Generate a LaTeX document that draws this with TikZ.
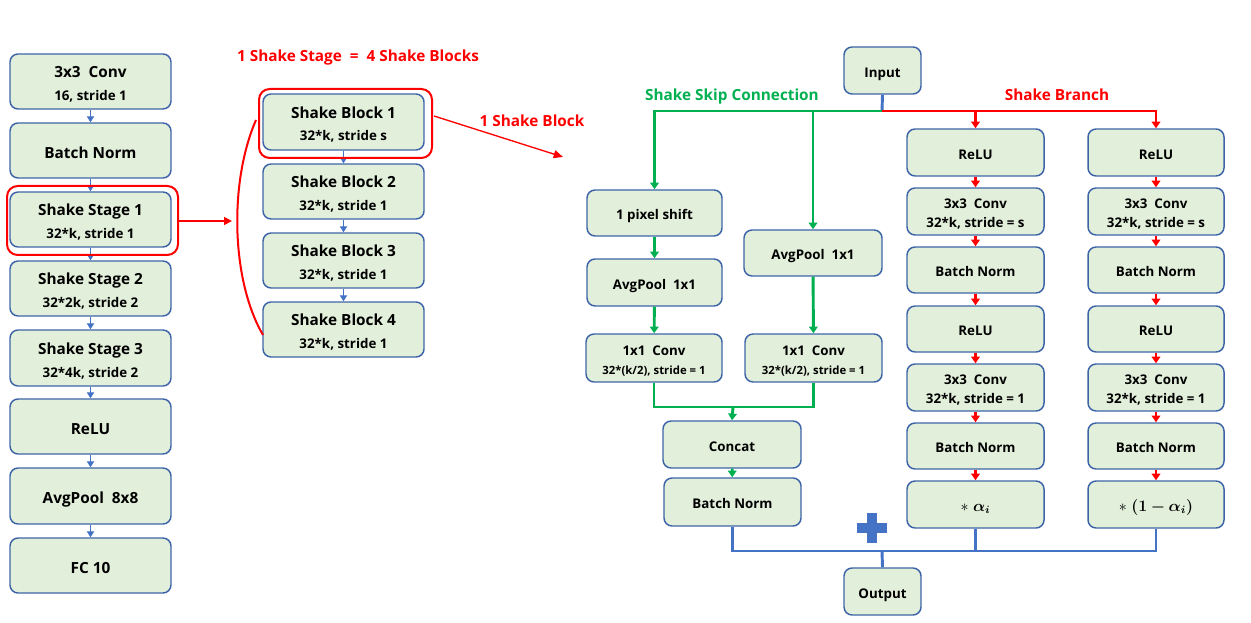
\documentclass[tikz,border=0pt]{standalone}
\usepackage{amsmath,bm}
\usepackage{fontspec}
\setmainfont{Open Sans}
\usetikzlibrary{arrows.meta}
\definecolor{boxfill}{RGB}{226,239,218}
\definecolor{boxdraw}{RGB}{62,100,168}
\definecolor{lblue}{RGB}{68,114,196}
\definecolor{lgreen}{RGB}{0,176,80}
\definecolor{lred}{RGB}{255,0,0}
\newcommand{\subL}{\fontsize{10}{12}\selectfont}
\newcommand{\subR}{\fontsize{8.5}{10}\selectfont}
\newcommand{\mathR}{\fontsize{11.5}{13}\selectfont}
\newcommand{\bx}[7][box]{\node[#1, minimum width={(#5-#3)*0.75pt}, minimum height={(#6-#4)*0.75pt}] (#2) at ({(#3+#5)/2},{(#4+#6)/2}) {\rule{0pt}{1.0em}#7};}
\begin{document}
\begin{tikzpicture}[x=0.75pt,y=-0.75pt,
  box/.style={draw=boxdraw, fill=boxfill, line width=1.1pt, rounded corners=6pt, align=center, inner sep=0pt, text depth=0pt, font=\bfseries\fontsize{11.5}{14}\selectfont},
  rbox/.style={box, font=\bfseries\fontsize{10}{12}\selectfont},
  frame/.style={draw=lred, line width=1.5pt, rounded corners=8pt, inner sep=0pt},
  sarrow/.style={draw=lblue, line width=0.8pt, -{Triangle[length=4.5pt,width=5.5pt]}},
  rarrow/.style={draw=lred, line width=1.8pt, -{Triangle[length=5pt,width=6.5pt]}},
  rthin/.style={draw=lred, line width=1pt, -{Triangle[length=7pt,width=6pt]}},
  rmid/.style={draw=lred, line width=1.3pt, -{Triangle[length=6pt,width=6pt]}},
  gline/.style={draw=lgreen, line width=2.2pt},
  garrow/.style={gline, -{Triangle[length=5pt,width=6.5pt]}},
  bline/.style={draw=lblue, line width=2.2pt},
  redtitle/.style={text=lred, font=\bfseries\fontsize{11.5}{14}\selectfont, inner sep=0pt, text depth=0pt},
  greentitle/.style={text=lgreen, font=\bfseries\fontsize{11.5}{14}\selectfont, inner sep=0pt, text depth=0pt}
]
\useasboundingbox (0,0) rectangle (1251,623);

% left column
\bx{c1}{10}{54}{171}{109}{3x3\ \ Conv\\[3pt]{\subL 16, stride 1}}
\bx{c2}{10}{123}{171}{178}{Batch Norm}
\bx{s1}{10}{192}{171}{247}{Shake Stage 1\\[3pt]{\subL 32*k, stride 1}}
\bx{s2}{10}{261}{171}{316}{Shake Stage 2\\[3pt]{\subL 32*2k, stride 2}}
\bx{s3}{10}{330}{171}{386}{Shake Stage 3\\[3pt]{\subL 32*4k, stride 2}}
\bx{rl}{10}{399}{171}{454}{ReLU}
\bx{ap}{10}{468}{171}{524}{AvgPool\ \ 8x8}
\bx{fc}{10}{538}{171}{593}{FC 10}
\draw[sarrow] (c1) -- (c2);
\draw[sarrow] (c2) -- (s1);
\draw[sarrow] (s1) -- (s2);
\draw[sarrow] (s2) -- (s3);
\draw[sarrow] (s3) -- (rl);
\draw[sarrow] (rl) -- (ap);
\draw[sarrow] (ap) -- (fc);
\bx[frame]{f1}{7}{186}{178}{255}{}

% middle column
\bx{b1}{263}{94}{424}{150}{Shake Block 1\\[3pt]{\subL 32*k, stride s}}
\bx{b2}{263}{164}{424}{219}{Shake Block 2\\[3pt]{\subL 32*k, stride 1}}
\bx{b3}{263}{233}{424}{288}{Shake Block 3\\[3pt]{\subL 32*k, stride 1}}
\bx{b4}{263}{302}{424}{357}{Shake Block 4\\[3pt]{\subL 32*k, stride 1}}
\draw[sarrow] (b1) -- (b2);
\draw[sarrow] (b2) -- (b3);
\draw[sarrow] (b3) -- (b4);
\bx[frame]{f2}{259}{89}{432}{158}{}

\node[redtitle] (t1) at (358,56) {1 Shake Stage\ \ =\ \ 4 Shake Blocks};
\node[redtitle] (t2) at (532,121) {1 Shake Block};
\coordinate (sa) at (232,221);
\draw[rmid] (f1.east |- sa) -- (sa);
\coordinate (cu1) at (256,120);
\coordinate (cu2) at (263,335);
\draw[lred, line width=1.5pt] (cu1) .. controls (229,182) and (231,280) .. (cu2);
\coordinate (ba1) at (434,116);
\coordinate (ba2) at (563,157);
\draw[rthin] (ba1) -- (ba2);

% right: shake block
\bx[rbox]{in}{844}{47}{921}{94}{Input}
\bx[rbox]{ps}{587}{190}{722}{236}{1 pixel shift}
\bx[rbox]{apl}{587}{259}{722}{306}{AvgPool\ \ 1x1}
\bx[rbox]{apr}{744}{230}{882}{276}{AvgPool\ \ 1x1}
\bx[rbox]{cvl}{586}{334}{722}{382}{1x1\ \ Conv\\[2pt]{\subR 32*(k/2), stride = 1}}
\bx[rbox]{cvr}{745}{334}{882}{382}{1x1\ \ Conv\\[2pt]{\subR 32*(k/2), stride = 1}}
\bx[rbox]{cc}{663}{421}{801}{468}{Concat}
\bx[rbox]{bn}{664}{478}{801}{526}{Batch Norm}
\bx[rbox]{out}{844}{568}{921}{615}{Output}

\bx[rbox]{a1}{907}{129}{1044}{176}{ReLU}
\bx[rbox]{a2}{907}{188}{1044}{235}{3x3\ \ Conv\\[2.5pt]32*k,\ stride\ =\ s}
\bx[rbox]{a3}{907}{247}{1044}{293}{Batch Norm}
\bx[rbox]{a4}{907}{306}{1044}{352}{ReLU}
\bx[rbox]{a5}{907}{364}{1044}{411}{3x3\ \ Conv\\[2.5pt]32*k,\ stride\ =\ 1}
\bx[rbox]{a6}{907}{423}{1044}{469}{Batch Norm}
\bx[rbox]{a7}{907}{481}{1044}{528}{{\mathR $*\;\bm{\alpha_i}$}}

\bx[rbox]{d1}{1088}{129}{1224}{176}{ReLU}
\bx[rbox]{d2}{1088}{188}{1224}{235}{3x3\ \ Conv\\[2.5pt]32*k,\ stride\ =\ s}
\bx[rbox]{d3}{1088}{247}{1224}{293}{Batch Norm}
\bx[rbox]{d4}{1088}{306}{1224}{352}{ReLU}
\bx[rbox]{d5}{1088}{364}{1224}{411}{3x3\ \ Conv\\[2.5pt]32*k,\ stride\ =\ 1}
\bx[rbox]{d6}{1088}{423}{1224}{469}{Batch Norm}
\bx[rbox]{d7}{1088}{481}{1224}{528}{{\mathR $*\;\bm{(1-\alpha_i)}$}}

\node[greentitle] (t3) at (732,95) {Shake Skip Connection};
\node[redtitle] (t4) at (1057,95) {Shake Branch};

\coordinate (j) at (882,111);
\draw[bline] (in.south) -- (j);
\draw[garrow] (j) -| (ps.north);
\draw[garrow] (apr.north |- j) -- (apr.north);
\draw[rarrow] (j) -| (a1.north);
\draw[rarrow] (j) -| (d1.north);
\draw[garrow] (ps) -- (apl);
\draw[garrow] (apl) -- (cvl);
\draw[garrow] (apr) -- (cvr);
\coordinate (cm) at (733,407);
\draw[gline] (cvl.south) |- (cm) -| (cvr.south);
\draw[garrow] (cm) -- (cc.north);
\draw[garrow] (cc) -- (bn);

\foreach \p/\q in {a1/a2,a2/a3,a3/a4,a4/a5,a5/a6,a6/a7,d1/d2,d2/d3,d3/d4,d4/d5,d5/d6,d6/d7}
  \draw[rarrow] (\p) -- (\q);

\coordinate (bm) at (882,551);
\draw[bline] (bn.south) |- (bm) -| (d7.south);
\draw[bline] (a7.south) -- (a7.south |- bm);
\draw[bline] (bm) -- (out.north);
\fill[lblue] (857,523) rectangle (887,533);
\fill[lblue] (867,513) rectangle (877,543);
\end{tikzpicture}
\end{document}
